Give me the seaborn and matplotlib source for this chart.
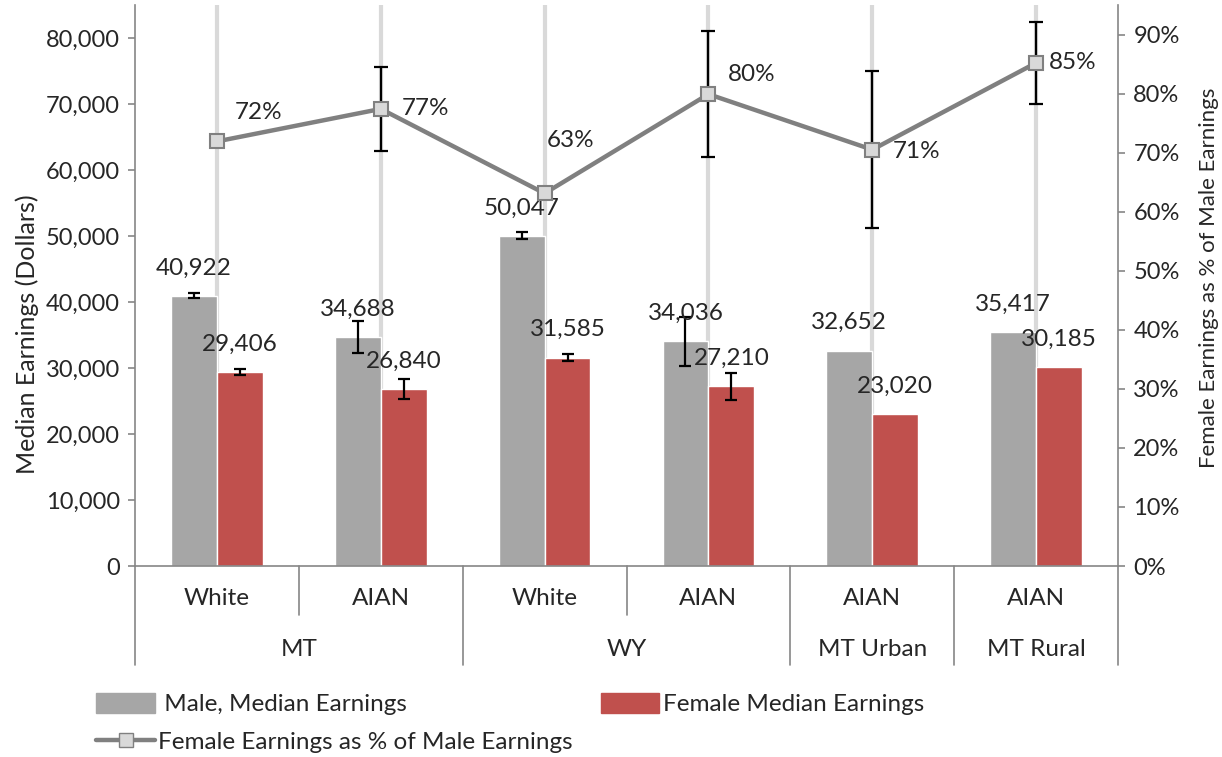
import numpy as np
import pandas as pd
import matplotlib
matplotlib.use("Agg")
from matplotlib import pyplot as plt
from matplotlib.ticker import FuncFormatter, PercentFormatter
from matplotlib.lines import Line2D
from matplotlib.patches import Patch
import seaborn as sns

# data
regions = ["MT", "MT", "WY", "WY", "MT Urban", "MT Rural"]
races = ["White", "AIAN", "White", "AIAN", "AIAN", "AIAN"]
male_earnings = [40922, 34688, 50047, 34036, 32652, 35417]
female_earnings = [29406, 26840, 31585, 27210, 23020, 30185]
male_moe = [380, 2480, 550, 3660, 0, 0]
female_moe = [480, 1560, 500, 2070, 0, 0]
female_pct = [0.719, 0.774, 0.631, 0.799, 0.705, 0.852]
pct_moe = [0, 0.071, 0, 0.1065, 0.1325, 0.0695]
pct_labels = ["72%", "77%", "63%", "80%", "71%", "85%"]

MALE_C = "#a6a6a6"
FEMALE_C = "#c0504d"
LINE_C = "#808080"
AXIS_C = "#868686"
FS = 17

groups = [f"{r} {c}" for r, c in zip(regions, races)]
bars = pd.DataFrame({
    "group": groups * 2,
    "sex": ["Male"] * 6 + ["Female"] * 6,
    "earnings": male_earnings + female_earnings,
})
line_df = pd.DataFrame({"group": groups, "pct": female_pct})

sns.set_style("white")
plt.rcParams["font.family"] = ["Lato", "DejaVu Sans"]

fig = plt.figure(figsize=(12.22, 7.57), dpi=100)
ax = fig.add_axes([0.1105, 0.2523, 0.8044, 0.7411])

sns.barplot(data=bars, x="group", y="earnings", hue="sex", order=groups,
            palette=[MALE_C, FEMALE_C], width=0.56, errorbar=None,
            saturation=1, legend=False, ax=ax, zorder=2)

# error bars and value labels on bars
for cont, moe in zip(ax.containers, [male_moe, female_moe]):
    for bar, m in zip(cont, moe):
        xc = bar.get_x() + bar.get_width() / 2
        h = bar.get_height()
        if m > 0:
            ax.errorbar(xc, h, yerr=m, color="black", lw=1.6, capsize=4,
                        capthick=1.6, zorder=3)
        ax.annotate(f"{int(h):,}", (xc, h), xytext=(0, 20),
                    textcoords="offset points", ha="center", va="center",
                    fontsize=17.5, zorder=4)

ax.set_xlim(-0.5, len(groups) - 0.5)
ax.set_ylim(0, 85000)
ax.set_yticks(range(0, 80001, 10000))
ax.yaxis.set_major_formatter(FuncFormatter(lambda v, p: f"{int(v):,}"))
ax.tick_params(axis="y", direction="out", length=5, color=AXIS_C,
               width=1.2, labelsize=FS, left=True, pad=6)
ax.set_ylabel("Median Earnings (Dollars)", fontsize=18)
ax.yaxis.set_label_coords(-0.098, 0.414)
ax.set_xlabel("")
ax.grid(axis="x", color="#d9d9d9", lw=3, zorder=0)
ax.set_axisbelow(True)
ax.tick_params(axis="x", length=0, labelbottom=False)
for s in ["top", "right"]:
    ax.spines[s].set_visible(False)
for s in ["left", "bottom"]:
    ax.spines[s].set_color(AXIS_C)
    ax.spines[s].set_linewidth(1.2)

# secondary axis with the percentage line
ax2 = ax.twinx()
for i, (p, m) in enumerate(zip(female_pct, pct_moe)):
    if m > 0:
        ax2.errorbar(i, p, yerr=m, color="black", lw=1.6, capsize=5,
                     capthick=1.6, zorder=2)
sns.pointplot(data=line_df, x="group", y="pct", order=groups, ax=ax2,
              color=LINE_C, markers="s", errorbar=None, linewidth=3.2,
              markersize=10, markerfacecolor="#d9d9d9",
              markeredgecolor=LINE_C, markeredgewidth=1.5, zorder=3)
ax2.set_xlim(-0.5, len(groups) - 0.5)
ax2.set_ylim(0, 0.95)
ax2.set_yticks(np.arange(0, 0.91, 0.1))
ax2.yaxis.set_major_formatter(PercentFormatter(1.0, decimals=0))
ax2.tick_params(axis="y", direction="out", length=5, color=AXIS_C,
                width=1.2, labelsize=FS, right=True, pad=6)
ax2.tick_params(axis="x", length=0, labelbottom=False)
ax2.set_ylabel("Female Earnings as % of Male Earnings", fontsize=16)
ax2.yaxis.set_label_coords(1.0824, 0.513)
ax2.set_xlabel("")
ax2.grid(False)
for s in ["top", "left", "bottom"]:
    ax2.spines[s].set_visible(False)
ax2.spines["right"].set_color(AXIS_C)
ax2.spines["right"].set_linewidth(1.2)

pct_offsets = [(30, 21), (32, 0), (19, 38), (31, 14), (32, -1), (26, 0)]
for i, (p, lab, off) in enumerate(zip(female_pct, pct_labels, pct_offsets)):
    ax2.annotate(lab, (i, p), xytext=off, textcoords="offset points",
                 ha="center", va="center", fontsize=17.5, zorder=5)

# two level category axis
trans = ax.get_xaxis_transform()
n = len(groups)
for k in range(n + 1):
    xb = k - 0.5
    long_line = k in (0, n) or regions[k] != regions[k - 1]
    y_end = -0.1765 if long_line else -0.0873
    ax.plot([xb, xb], [0, y_end], color=AXIS_C, lw=1.2, transform=trans,
            clip_on=False)
for i, r in enumerate(races):
    ax.text(i, -0.0588, r, transform=trans, ha="center", va="center",
            fontsize=17.5)
start = 0
for k in range(1, n + 1):
    if k == n or regions[k] != regions[start]:
        ax.text((start + k - 1) / 2, -0.1497, regions[start], transform=trans,
                ha="center", va="center", fontsize=17.5)
        start = k

handles = [
    Patch(color=MALE_C, label=" Male, Median Earnings"),
    Line2D([], [], color=LINE_C, lw=3.2, marker="s", markersize=10,
           markerfacecolor="#d9d9d9", markeredgecolor=LINE_C,
           label="Female Earnings as % of Male Earnings"),
    Patch(color=FEMALE_C, label="Female Median Earnings"),
]
fig.legend(handles=handles, ncol=2, loc="upper left",
           bbox_to_anchor=(0.061, 0.113), frameon=False, fontsize=17.5,
           handlelength=2.4, handleheight=0.85, handletextpad=0.15,
           columnspacing=1.15, labelspacing=0.65)

fig.savefig("out.png", dpi=100)
